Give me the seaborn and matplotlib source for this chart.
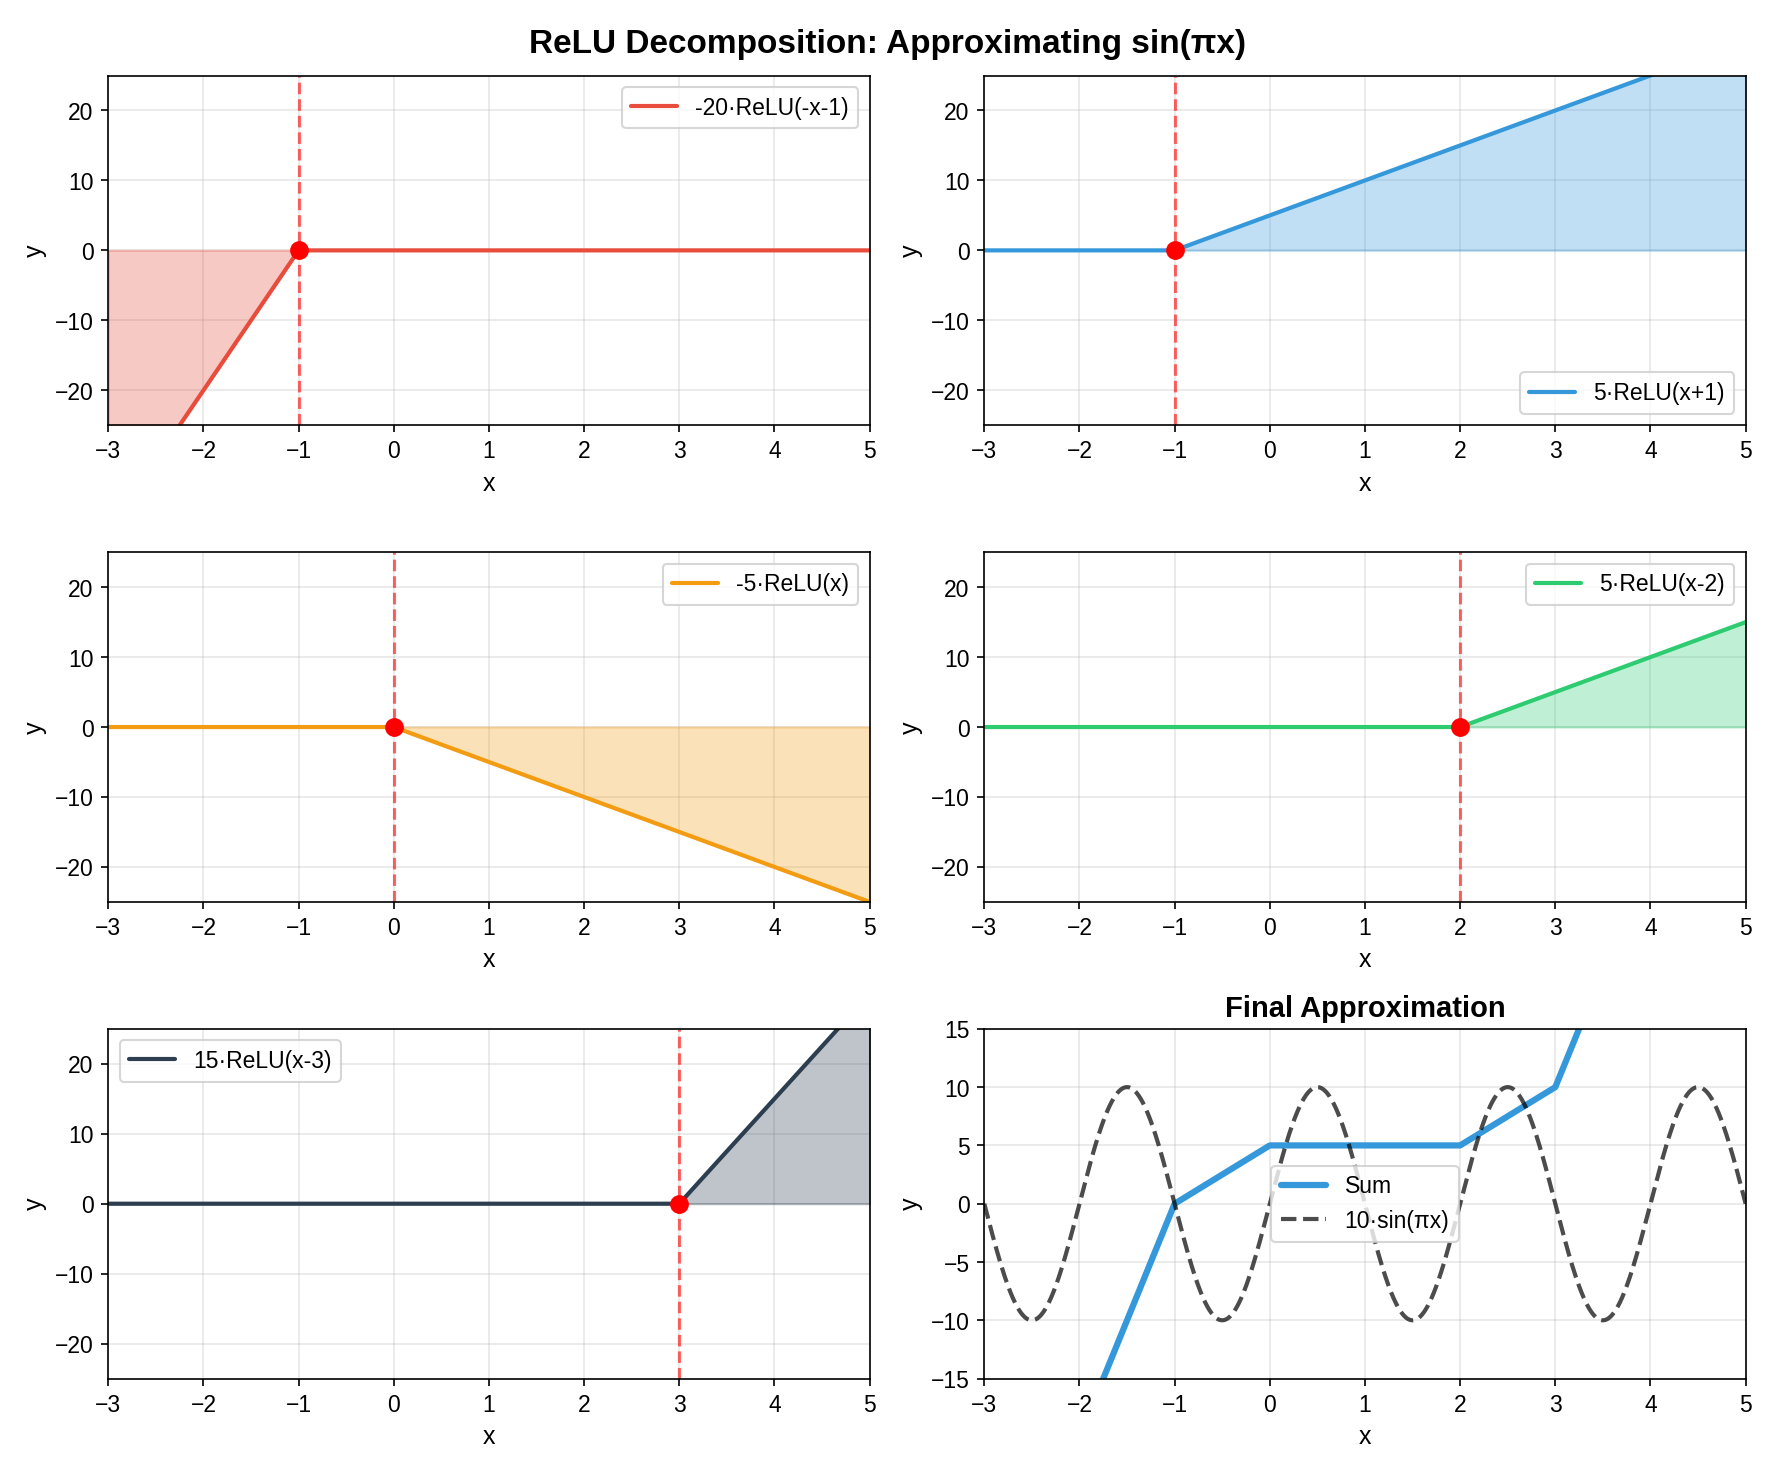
import numpy as np
import matplotlib
matplotlib.use("Agg")
import matplotlib.pyplot as plt
import seaborn as sns

# ReLU terms: coeff * ReLU(sign*x + shift)
coeffs = [-20, 5, -5, 5, 15]
signs = [-1, 1, 1, 1, 1]
shifts = [-1, 1, 0, -2, -3]
kinks = [-1, -1, 0, 2, 3]
labels = ['-20·ReLU(-x-1)', '5·ReLU(x+1)', '-5·ReLU(x)', '5·ReLU(x-2)', '15·ReLU(x-3)']
colors = ['#e74c3c', '#3498db', '#f39c12', '#2ecc71', '#2c3e50']
legend_locs = ['upper right', 'lower right', 'upper right', 'upper right', 'upper left']

sin_amp = 10
x_min, x_max = -3, 5

sns.set_style("white")
plt.rcParams['font.family'] = ['Liberation Sans', 'DejaVu Sans']
plt.rcParams['text.color'] = 'black'
plt.rcParams['axes.labelcolor'] = 'black'
plt.rcParams['xtick.color'] = 'black'
plt.rcParams['ytick.color'] = 'black'
plt.rcParams['grid.color'] = '#b0b0b0'

x = np.linspace(x_min, x_max, 2001)

fig, axes = plt.subplots(3, 2, figsize=(11.83, 9.81), dpi=150)
axes = axes.flatten()

total = np.zeros_like(x)
for i in range(5):
    ax = axes[i]
    y = coeffs[i] * np.maximum(0, signs[i] * x + shifts[i])
    total = total + y
    sns.lineplot(x=x, y=y, ax=ax, color=colors[i], linewidth=2, label=labels[i])
    ax.fill_between(x, 0, y, color=colors[i], alpha=0.3)
    ax.axvline(kinks[i], color='red', linestyle='--', alpha=0.6, linewidth=1.5)
    ax.plot(kinks[i], 0, 'o', color='red', markersize=8, zorder=5)
    ax.set_xlim(x_min, x_max)
    ax.set_ylim(-25, 25)
    ax.set_xlabel('x')
    ax.set_ylabel('y')
    ax.grid(True, alpha=0.3)
    ax.legend(loc=legend_locs[i], fontsize=11)

# 最终近似
ax = axes[5]
sns.lineplot(x=x, y=total, ax=ax, color='#3498db', linewidth=3, label='Sum')
sns.lineplot(x=x, y=sin_amp * np.sin(np.pi * x), ax=ax, color='black', linewidth=2,
             linestyle='--', alpha=0.7, label='10·sin(πx)')
ax.set_xlim(x_min, x_max)
ax.set_ylim(-15, 15)
ax.set_xlabel('x')
ax.set_ylabel('y')
ax.set_title('Final Approximation', fontweight='bold', fontsize=14)
ax.grid(True, alpha=0.3)
ax.legend(loc='center', fontsize=11)

for a in axes:
    for s in a.spines.values():
        s.set_color('black')
    a.tick_params(axis='both', which='both', length=3.5, width=0.8, left=True, bottom=True, labelsize=11)
    a.xaxis.label.set_size(12)
    a.yaxis.label.set_size(12)

fig.suptitle('ReLU Decomposition: Approximating sin(πx)', fontsize=16, fontweight='bold')
plt.tight_layout()
plt.savefig('out.png', dpi=150)
